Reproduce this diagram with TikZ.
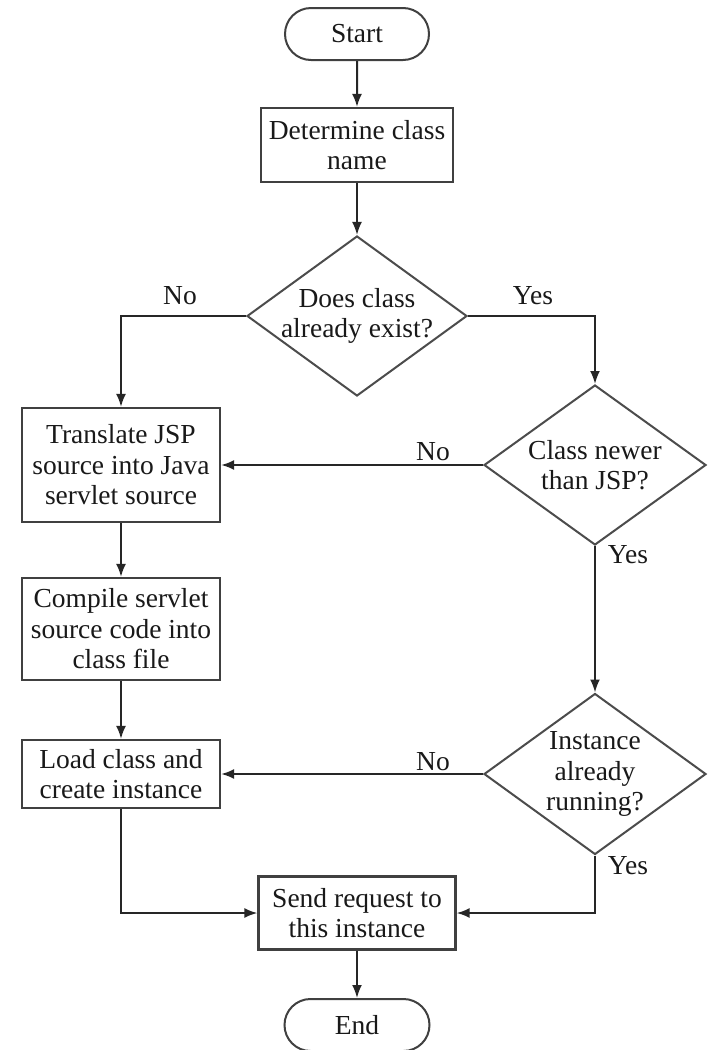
\documentclass[tikz,border=0pt]{standalone}
\usepackage{fontspec}
\setmainfont{Liberation Serif}
\usetikzlibrary{shapes.geometric,shapes.misc,arrows.meta}
\begin{document}
\begin{tikzpicture}[x=1pt,y=-1pt,
  every node/.style={font=\fontsize{27.5}{30.5}\selectfont, text=black!90},
  line/.style={draw=black!85, line width=2pt},
  arr/.style={line, -{Latex[length=13pt,width=10pt]}},
  procbox/.style={draw=black!75, line width=2.2pt, align=center, inner sep=0pt},
  term/.style={draw=black!75, line width=2pt, rounded rectangle, inner sep=0pt, minimum width=144pt, minimum height=52pt},
  decision/.style={draw=black!70, line width=2pt, diamond, inner sep=0pt},
  lbl/.style={inner sep=0pt}]
\useasboundingbox (0,0) rectangle (710,1050);
\fill[white] (0,0) rectangle (710,1050);

\node[term] (start) at (357,34) {Start};
\node[procbox, minimum width=192pt, minimum height=74pt] (det) at (357,145) {Determine class\\name};
\node[decision, minimum width=220pt, minimum height=160pt] (d1) at (357,316) {};
\node[lbl, align=center] (d1t) at (d1) {Does class\\already exist?};

\node[procbox, minimum width=198pt, minimum height=114pt] (trans) at (121,465) {Translate JSP\\source into Java\\servlet source};
\node[decision, minimum width=222pt, minimum height=160pt] (d2) at (595,465) {};
\node[lbl, align=center] (d2t) at (d2) {Class newer\\than JSP?};

\node[procbox, minimum width=198pt, minimum height=102pt] (comp) at (121,629) {Compile servlet\\source code into\\class file};
\node[procbox, minimum width=198pt, minimum height=68pt] (load) at (121,774) {Load class and\\create instance};
\node[decision, minimum width=222pt, minimum height=161pt] (d3) at (595,774) {};
\node[lbl, align=center] (d3t) at (d3) {Instance\\already\\running?};

\node[procbox, minimum width=197pt, minimum height=73pt] (send) at (357,913) {Send request to\\this instance};
\node[term, minimum width=145pt] (end) at (357,1025) {End};

\node[lbl] (no1) at (180,296) {No};
\node[lbl] (yes1) at (533,296) {Yes};
\node[lbl] (no2) at (433,452) {No};
\node[lbl] (yes2) at (628,555) {Yes};
\node[lbl] (no3) at (433,762) {No};
\node[lbl] (yes3) at (628,866) {Yes};

\draw[arr] (start) -- (det);
\draw[arr] (det) -- (d1);
\draw[arr] (d1.west) -| (trans.north);
\draw[arr] (d1.east) -| (d2.north);
\draw[arr] (d2.west) -- (trans.east);
\draw[arr] (d2.south) -- (d3.north);
\draw[arr] (trans) -- (comp);
\draw[arr] (comp) -- (load);
\draw[arr] (d3.west) -- (load.east);
\draw[arr] (load.south) |- (send.west);
\draw[arr] (d3.south) |- (send.east);
\draw[arr] (send) -- (end);
\end{tikzpicture}
\end{document}
